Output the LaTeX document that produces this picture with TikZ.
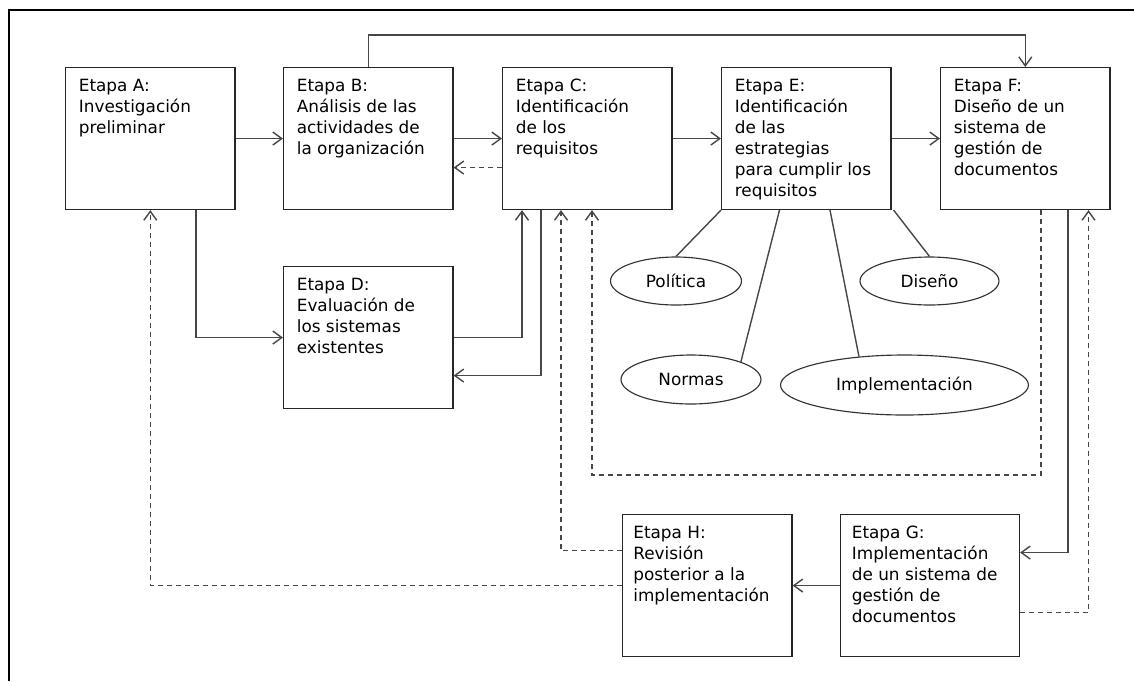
\documentclass[tikz,border=0pt]{standalone}
\usepackage{fontspec}
\setmainfont{DejaVu Sans}
\usetikzlibrary{shapes.geometric,arrows.meta,calc}

\tikzset{
  stage/.style={draw=black!85, line width=0.65pt, anchor=north west,
    minimum width=3.39cm, minimum height=2.84cm, inner sep=0pt},
  stagetext/.style={anchor=north west, align=left, inner sep=0pt,
    font=\fontsize{9.6}{11.95}\selectfont},
  strat/.style={draw=black!80, line width=0.65pt, ellipse, inner sep=0pt,
    font=\fontsize{9.6}{11.95}\selectfont},
  link/.style={draw=black!72, line width=0.8pt},
  arr/.style={link, -{Straight Barb[length=1.8mm,width=2.6mm]}},
  darr/.style={arr, dash pattern=on 1mm off 0.8mm}
}

\begin{document}
\begin{tikzpicture}[x=0.02cm,y=-0.02cm]
\useasboundingbox (0,0) rectangle (1134,681);
% frame
\draw[line width=0.05cm] (9,681) -- (9,10) -- (1134,10);

% stages
\node[stage] (A) at (65,67) {};
\node[stage] (B) at (283,67) {};
\node[stage] (C) at (502,67) {};
\node[stage] (E) at (721,67) {};
\node[stage] (F) at (940,67) {};
\node[stage] (D) at (283,266) {};
\node[stage] (H) at (622,514) {};
\node[stage, minimum width=3.58cm] (G) at (840,514) {};

\node[stagetext] (At) at ($(A.north west)+(13.5,11.5)$) {Etapa A:\\Investigación\\preliminar};
\node[stagetext] (Bt) at ($(B.north west)+(13.5,11.5)$) {Etapa B:\\Análisis de las\\actividades de\\la organización};
\node[stagetext] (Ct) at ($(C.north west)+(13.5,11.5)$) {Etapa C:\\Identificación\\de los\\requisitos};
\node[stagetext] (Et) at ($(E.north west)+(13.5,11.5)$) {Etapa E:\\Identificación\\de las\\estrategias\\para cumplir los\\requisitos};
\node[stagetext] (Ft) at ($(F.north west)+(13.5,11.5)$) {Etapa F:\\Diseño de un\\sistema de\\gestión de\\documentos};
\node[stagetext] (Dt) at ($(D.north west)+(13.5,11.5)$) {Etapa D:\\Evaluación de\\los sistemas\\existentes};
\node[stagetext] (Ht) at ($(H.north west)+(11,11.5)$) {Etapa H:\\Revisión\\posterior a la\\implementación};
\node[stagetext] (Gt) at ($(G.north west)+(11.5,11.5)$) {Etapa G:\\Implementación\\de un sistema de\\gestión de\\documentos};

% strategies
\node[strat, minimum width=2.62cm, minimum height=0.96cm] (pol) at (676,281) {Política};
\node[strat, minimum width=2.78cm, minimum height=0.96cm] (dis) at (929.5,281) {Diseño};
\node[strat, minimum width=2.8cm, minimum height=0.98cm] (nor) at (691,379.5) {Normas};
\node[strat, minimum width=4.96cm, minimum height=1.2cm] (imp) at (904.5,385) {Implementación};

\draw[link] (E.south west) -- (pol.north);
\draw[link] ($(E.south west)+(58.5,0)$) -- (nor.north east);
\draw[link] ($(E.south west)+(109,0)$) -- (imp.148);
\draw[link] ($(E.south east)+(2,0)$) -- (dis.north);

% main flow
\draw[arr] (A) -- (B);
\draw[arr] (B) -- (C);
\draw[arr] (C) -- (E);
\draw[arr] (E) -- (F);
\draw[darr] ($(C.west)+(0,29)$) -- ($(B.east)+(0,29)$);
\draw[arr] (B.north) -- ++(0,-32) -| (F.north);
\draw[arr] ($(A.south)+(45.5,0)$) |- (D.west);
\draw[arr] (D.east) -| ($(C.south west)+(20,0)$);
\draw[arr] ($(C.south west)+(39,0)$) |- ($(D.east)+(0,38)$);
\draw[arr] ($(F.south west)+(128,0)$) |- ($(G.east)+(0,-33)$);
\draw[arr] (G) -- (H);

% feedback
\draw[darr] ($(F.south west)+(101,0)$) |- ($(C.south west)+(90,265)$) -- ($(C.south west)+(90,0)$);
\draw[darr] ($(H.west)+(0,-35)$) -| ($(C.south west)+(59,0)$);
\draw[darr] (H.west) -| (A.south);
\draw[darr] ($(G.east)+(0,27)$) -| ($(F.south west)+(148.5,0)$);
\end{tikzpicture}
\end{document}
